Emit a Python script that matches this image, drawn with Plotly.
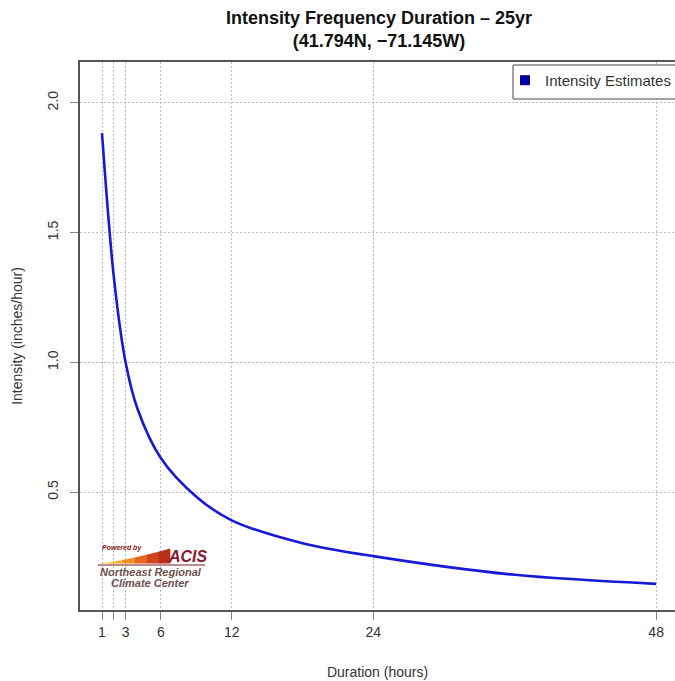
import plotly.graph_objects as go

# ---- data ----
durations = [1, 2, 3, 4, 6, 9, 12, 18, 24, 36, 48]
intensity = [1.883, 1.33, 1.00, 0.822, 0.630, 0.482, 0.391, 0.303, 0.253, 0.181, 0.146]

x_tickvals = [1, 2, 3, 6, 12, 24, 48]
x_ticktext = ["1", "", "3", "6", "12", "24", "48"]
y_tickvals = [0.5, 1.0, 1.5, 2.0]
y_ticktext = ["0.5", "1.0", "1.5", "2.0"]

title_line1 = "Intensity Frequency Duration – 25yr"
title_line2 = "(41.794N, −71.145W)"
series_name = "Intensity Estimates"

W, H = 675, 681
ML, MR, MT, MB = 80, 0, 62, 71
PW, PH = W - ML - MR, H - MT - MB
FONT = "Liberation Sans, Arial, Helvetica, sans-serif"

fig = go.Figure()
fig.add_trace(go.Scatter(
    x=durations, y=intensity, mode="lines",
    line=dict(color="#1818D8", width=2.6, shape="spline", smoothing=0.9),
    showlegend=False, hoverinfo="x+y"))
# legend entry (square symbol)
fig.add_trace(go.Scatter(
    x=[None], y=[None], mode="markers", name=series_name,
    marker=dict(symbol="square", size=9, color="#0000B0",
                line=dict(color="#000060", width=1))))


def px(x):
    """pixel x -> paper (plot-area) fraction"""
    return (x - ML) / PW


def py(y):
    """pixel y -> paper (plot-area) fraction"""
    return (H - MB - y) / PH


shapes = []
# legend box (drawn as a shape so the entry can sit close to its left edge)
shapes.append(dict(type="rect", xref="paper", yref="paper",
                   x0=px(513), x1=px(690), y0=py(99), y1=py(65),
                   fillcolor="white", line=dict(color="#444444", width=1), layer="above"))
# ACIS logo wedge (decoration), built from slivers to mimic the gradient
wedge_cols = ["#F8CF3A", "#F6B02E", "#F08D25", "#E6671E", "#D4441A", "#B8301A"]
x0, x1 = 99.0, 170.0
ybot, ytop = 563.5, 548.5
n = len(wedge_cols)
for i, c in enumerate(wedge_cols):
    xa = x0 + (x1 - x0) * i / n
    xb = x0 + (x1 - x0) * (i + 1) / n
    ta = ybot - (ybot - ytop) * ((xa - x0) / (x1 - x0)) ** 1.3
    tb = ybot - (ybot - ytop) * ((xb - x0) / (x1 - x0)) ** 1.3
    path = "M {} {} L {} {} L {} {} L {} {} Z".format(
        px(xa), py(ybot), px(xb + 0.3), py(ybot), px(xb + 0.3), py(tb), px(xa), py(ta))
    shapes.append(dict(type="path", xref="paper", yref="paper", path=path,
                       fillcolor=c, line=dict(width=0), layer="above"))
shapes.append(dict(type="line", xref="paper", yref="paper",
                   x0=px(98), x1=px(205), y0=py(565), y1=py(565),
                   line=dict(color="#7A1E1E", width=1.2)))

annotations = [
    dict(text="<b><i>Powered by</i></b>", x=px(100), y=py(548), xref="paper", yref="paper",
         xanchor="left", yanchor="middle", showarrow=False,
         font=dict(family=FONT, size=7, color="#8B1A1A")),
    dict(text="<b><i>ACIS</i></b>", x=px(166), y=py(556), xref="paper", yref="paper",
         xanchor="left", yanchor="middle", showarrow=False,
         font=dict(family=FONT, size=16, color="#8B1A2A")),
    dict(text="<b><i>Northeast Regional</i></b>", x=px(151), y=py(571.5), xref="paper", yref="paper",
         xanchor="center", yanchor="middle", showarrow=False,
         font=dict(family=FONT, size=11, color="#6E5050")),
    dict(text="<b><i>Climate Center</i></b>", x=px(150), y=py(582.5), xref="paper", yref="paper",
         xanchor="center", yanchor="middle", showarrow=False,
         font=dict(family=FONT, size=11, color="#6E5050")),
]

fig.update_layout(
    width=W, height=H,
    margin=dict(l=ML, r=MR, t=MT, b=MB, autoexpand=False),
    paper_bgcolor="white", plot_bgcolor="white",
    font=dict(family=FONT, size=14, color="#333333"),
    title=dict(text="<b>" + title_line1 + "</b><br><b>" + title_line2 + "</b>",
               x=(80 + 678) / 2 / W, xanchor="center", y=1 - 24 / H, yanchor="middle",
               font=dict(family=FONT, size=18, color="#111111")),
    showlegend=True,
    legend=dict(x=px(505), y=py(64), xanchor="left", yanchor="top",
                bgcolor="rgba(0,0,0,0)", borderwidth=0,
                font=dict(family=FONT, size=15, color="#333333"),
                itemsizing="trace", tracegroupgap=0),
    shapes=shapes,
    annotations=annotations,
)

fig.update_xaxes(
    range=[-0.866, 49.6],
    tickmode="array", tickvals=x_tickvals, ticktext=x_ticktext,
    ticks="outside", ticklen=8, tickcolor="#888888", tickwidth=1,
    ticklabelstandoff=0,
    showgrid=True, gridcolor="#BBBBBB", griddash="2px,2px", gridwidth=1,
    showline=True, linecolor="#555555", linewidth=1.5, mirror=True,
    zeroline=False,
    tickfont=dict(size=14, color="#333333"),
    title=dict(text="Duration (hours)", font=dict(size=14, color="#333333"), standoff=29),
)
fig.update_yaxes(
    range=[0.0455, 2.157],
    tickmode="array", tickvals=y_tickvals, ticktext=y_ticktext,
    tickangle=-90,
    ticks="outside", ticklen=8, tickcolor="#888888", tickwidth=1,
    ticklabelstandoff=7,
    showgrid=True, gridcolor="#BBBBBB", griddash="2px,2px", gridwidth=1,
    showline=True, linecolor="#555555", linewidth=1.5,
    zeroline=False,
    tickfont=dict(size=14, color="#333333"),
    title=dict(text="Intensity (inches/hour)", font=dict(size=14, color="#333333"), standoff=19),
)

fig.write_html("out.html", config={"displayModeBar": False},
               post_script="document.body.style.margin='0';")
